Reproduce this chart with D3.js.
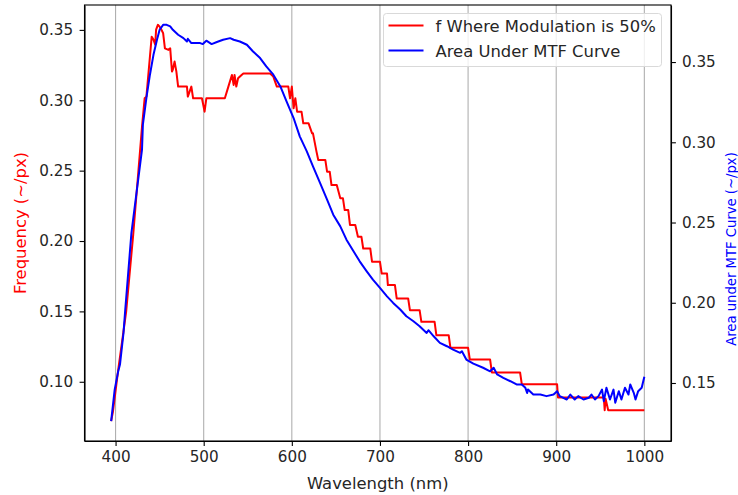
<!DOCTYPE html>
<meta charset="utf-8">
<html>
<head>
    <style>
        body {
            margin: 0;
            background: #fff;
        }

        svg text {
            font-family: 'DejaVu Sans', sans-serif;
            font-size: 16.4px;
            fill: #262626;
        }

        .axis path,
        .axis line {
            fill: none;
            stroke: #000;
            stroke-width: 1.1px;
        }

        .grid line {
            stroke: #b0b0b0;
            stroke-width: 1.1px;
        }
    </style>
    <script src="https://cdn.jsdelivr.net/npm/d3@7"></script>
</head>

<body>
    <svg id="chart"></svg>
    <script>

        // f where modulation is 50% (left axis) - [wavelength nm, frequency]
        var redWave = [395, 397, 403, 412, 420, 430, 433, 435, 439, 441, 443, 445, 446, 448, 450, 452, 454, 456, 460, 462, 464, 465, 467, 469, 471, 481, 482, 486, 488, 498, 501, 503, 524, 528, 532, 534, 535, 537, 539, 543, 545, 575, 579, 583, 596, 598, 600, 602, 604, 606, 611, 613, 619, 623, 624, 628, 630, 638, 640, 643, 645, 651, 655, 658, 660, 664, 666, 672, 675, 679, 681, 689, 691, 700, 702, 708, 709, 717, 719, 732, 734, 745, 747, 762, 764, 778, 780, 800, 802, 825, 827, 859, 861, 901, 902, 954, 955, 956, 959, 1000];
        var redFreq = [0.072, 0.0786, 0.1085, 0.1497, 0.2044, 0.2812, 0.3014, 0.3026, 0.331, 0.3452, 0.3431, 0.3395, 0.3502, 0.3536, 0.3523, 0.3502, 0.3476, 0.3369, 0.3358, 0.3369, 0.3204, 0.3218, 0.3275, 0.3204, 0.3097, 0.3097, 0.3026, 0.3097, 0.3014, 0.3014, 0.2919, 0.3014, 0.3014, 0.3097, 0.318, 0.3109, 0.318, 0.3097, 0.3156, 0.318, 0.3191, 0.3191, 0.3168, 0.3097, 0.3097, 0.3014, 0.3097, 0.2943, 0.3014, 0.2919, 0.2919, 0.2836, 0.2836, 0.2765, 0.2765, 0.2635, 0.2576, 0.2576, 0.2493, 0.2493, 0.2398, 0.2398, 0.2303, 0.2303, 0.222, 0.222, 0.2114, 0.2114, 0.203, 0.203, 0.1947, 0.1947, 0.1853, 0.1853, 0.1769, 0.1769, 0.1687, 0.1687, 0.1592, 0.1592, 0.1509, 0.1509, 0.1426, 0.1426, 0.1331, 0.1331, 0.1241, 0.1241, 0.1158, 0.1158, 0.1066, 0.1066, 0.0982, 0.0982, 0.0888, 0.0888, 0.0798, 0.088, 0.0798, 0.0798];

        // area under MTF curve (right axis)
        var blueWave = [395, 399, 403, 405, 409, 411, 418, 430, 431, 435, 439, 443, 447, 450, 454, 458, 462, 465, 471, 477, 481, 482, 486, 496, 499, 503, 509, 515, 522, 530, 534, 541, 549, 556, 564, 571, 579, 587, 594, 602, 609, 617, 624, 632, 640, 647, 655, 662, 670, 677, 685, 692, 700, 708, 715, 723, 730, 738, 745, 753, 755, 761, 768, 776, 783, 791, 793, 798, 806, 817, 825, 829, 833, 840, 848, 855, 861, 865, 867, 868, 874, 882, 889, 897, 901, 904, 912, 916, 921, 925, 931, 937, 940, 944, 948, 952, 954, 957, 961, 965, 967, 971, 974, 978, 982, 984, 988, 990, 993, 997, 1000];
        var blueArea = [0.1262, 0.1459, 0.1573, 0.1615, 0.1812, 0.1958, 0.2435, 0.2954, 0.311, 0.3276, 0.3421, 0.3545, 0.3639, 0.3701, 0.3732, 0.3732, 0.3722, 0.3701, 0.367, 0.3649, 0.3628, 0.3645, 0.3618, 0.3618, 0.3612, 0.3633, 0.3612, 0.3625, 0.3639, 0.3649, 0.3639, 0.3628, 0.3608, 0.3566, 0.3525, 0.3473, 0.3421, 0.3348, 0.3255, 0.3151, 0.3037, 0.2943, 0.285, 0.2747, 0.2643, 0.2549, 0.2476, 0.2393, 0.2321, 0.2258, 0.2196, 0.2144, 0.2093, 0.204, 0.1999, 0.1958, 0.1916, 0.1885, 0.1854, 0.1812, 0.1829, 0.1791, 0.175, 0.1729, 0.1708, 0.1688, 0.1698, 0.1646, 0.1621, 0.1595, 0.1573, 0.1595, 0.1553, 0.1532, 0.1511, 0.1491, 0.1491, 0.147, 0.1438, 0.1459, 0.1428, 0.1428, 0.1418, 0.1428, 0.1449, 0.1418, 0.1397, 0.1428, 0.1397, 0.1418, 0.1397, 0.1408, 0.1428, 0.1397, 0.1418, 0.1459, 0.1387, 0.147, 0.1397, 0.1459, 0.1377, 0.1449, 0.1397, 0.147, 0.1428, 0.1491, 0.1439, 0.1397, 0.1449, 0.147, 0.1539];

        var xTicks = [400, 500, 600, 700, 800, 900, 1000];
        var leftTicks = [0.10, 0.15, 0.20, 0.25, 0.30, 0.35];
        var rightTicks = [0.15, 0.20, 0.25, 0.30, 0.35];
        var legendLabels = ["f Where Modulation is 50%", "Area Under MTF Curve"];

        var W = 738, H = 495;
        var margin = { top: 5, right: 67, bottom: 54, left: 84.5 };
        var width = W - margin.left - margin.right,
            height = H - margin.top - margin.bottom;

        // matplotlib style 5% padding around the data
        function padded(ext) {
            var p = (ext[1] - ext[0]) * 0.05;
            return [ext[0] - p, ext[1] + p];
        }

        var x = d3.scaleLinear()
            .domain(padded(d3.extent(redWave.concat(blueWave))))
            .range([0, width]);

        var yLeft = d3.scaleLinear()
            .domain(padded(d3.extent(redFreq)))
            .range([height, 0]);

        var yRight = d3.scaleLinear()
            .domain(padded(d3.extent(blueArea)))
            .range([height, 0]);

        var svg = d3.select("#chart")
            .attr("width", W)
            .attr("height", H);

        var g = svg.append("g")
            .attr("transform", "translate(" + margin.left + "," + margin.top + ")");

        // vertical grid
        g.append("g")
            .attr("class", "grid")
            .selectAll("line")
            .data(xTicks)
            .enter().append("line")
            .attr("x1", function (d) { return x(d); })
            .attr("x2", function (d) { return x(d); })
            .attr("y1", 0)
            .attr("y2", height);

        var redLine = d3.line()
            .x(function (d, i) { return x(redWave[i]); })
            .y(function (d) { return yLeft(d); });

        var blueLine = d3.line()
            .x(function (d, i) { return x(blueWave[i]); })
            .y(function (d) { return yRight(d); });

        g.append("path")
            .datum(redFreq)
            .attr("fill", "none")
            .attr("stroke", "#ff0000")
            .attr("stroke-width", 2)
            .attr("stroke-linejoin", "round")
            .attr("d", redLine);

        g.append("path")
            .datum(blueArea)
            .attr("fill", "none")
            .attr("stroke", "#0000ff")
            .attr("stroke-width", 2)
            .attr("stroke-linejoin", "round")
            .attr("d", blueLine);

        // axes
        var xAxis = g.append("g")
            .attr("class", "axis")
            .attr("transform", "translate(0," + height + ")")
            .call(d3.axisBottom(x).tickValues(xTicks).tickFormat(d3.format("d")).tickSize(4.9).tickPadding(5.5).tickSizeOuter(0));

        var lAxis = g.append("g")
            .attr("class", "axis")
            .call(d3.axisLeft(yLeft).tickValues(leftTicks).tickFormat(d3.format(".2f")).tickSize(4.9).tickPadding(6.5).tickSizeOuter(0));

        var rAxis = g.append("g")
            .attr("class", "axis")
            .attr("transform", "translate(" + width + ",0)")
            .call(d3.axisRight(yRight).tickValues(rightTicks).tickFormat(d3.format(".2f")).tickSize(4.9).tickPadding(6).tickSizeOuter(0));

        [xAxis, lAxis, rAxis].forEach(function (a) {
            a.selectAll("text").style("font-size", "15.2px").attr("fill", "#262626")
                .style("font-family", "'DejaVu Sans', sans-serif");
        });

        // frame
        g.append("rect")
            .attr("width", width)
            .attr("height", height)
            .attr("fill", "none")
            .attr("stroke", "#000")
            .attr("stroke-width", 1.1);

        // axis titles
        svg.append("text")
            .attr("x", margin.left + width / 2)
            .attr("y", 489)
            .attr("text-anchor", "middle")
            .text("Wavelength (nm)");

        svg.append("text")
            .attr("transform", "translate(26," + (margin.top + height / 2) + ") rotate(-90)")
            .attr("text-anchor", "middle")
            .style("fill", "#ff0000")
            .text("Frequency (~/px)");

        svg.append("text")
            .attr("transform", "translate(736," + (margin.top + height / 2 + 26) + ") rotate(-90)")
            .attr("text-anchor", "middle")
            .style("fill", "#0000ff")
            .style("font-size", "13.2px")
            .text("Area under MTF Curve (~/px)");

        // legend
        var leg = svg.append("g")
            .attr("transform", "translate(383.5,13.5)");

        leg.append("rect")
            .attr("width", 278)
            .attr("height", 53)
            .attr("rx", 3)
            .attr("fill", "#fff")
            .attr("fill-opacity", 0.8)
            .attr("stroke", "#d9d9d9")
            .attr("stroke-width", 1);

        var colors = ["#ff0000", "#0000ff"];
        legendLabels.forEach(function (lbl, i) {
            var yy = 12 + i * 25;
            leg.append("line")
                .attr("x1", 5).attr("x2", 40)
                .attr("y1", yy).attr("y2", yy)
                .attr("stroke", colors[i])
                .attr("stroke-width", 2);
            leg.append("text")
                .attr("x", 52)
                .attr("y", yy + 6)
                .text(lbl);
        });
    </script>
</body>
</html>
